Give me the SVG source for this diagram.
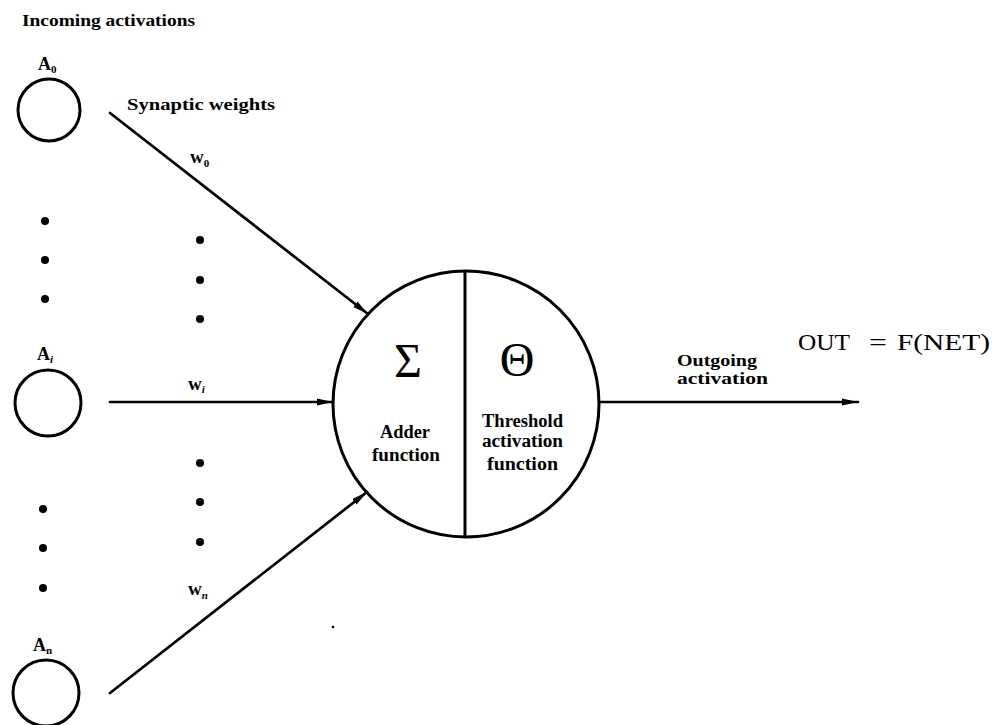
<svg xmlns="http://www.w3.org/2000/svg" width="1000" height="725" viewBox="0 0 1000 725">
<defs>
<style>
.c{fill:none;stroke:#000;stroke-width:3}
.l{fill:none;stroke:#000;stroke-width:2.7;stroke-linecap:round}
.t{font-family:"Liberation Serif",serif;font-weight:bold;fill:#000}
.s{font-size:17px}
.f{font-size:18px}
.d{fill:#000}
.m{font-family:"Liberation Serif",serif;fill:#000}
</style>
<marker id="ah" markerUnits="userSpaceOnUse" markerWidth="18" markerHeight="10" refX="16" refY="5" orient="auto">
<path d="M0,1.5 L16,5 L0,8.5 z" fill="#000"/>
</marker>
</defs>
<rect width="1000" height="725" fill="#fff"/>
<text class="t s" x="22" y="26" textLength="173" lengthAdjust="spacingAndGlyphs">Incoming activations</text>
<g id="A0">
<circle class="c" cx="49" cy="110" r="31"/>
<text class="t" x="38" y="70" font-size="18">A<tspan font-size="11" dy="3">0</tspan></text>
</g>
<g id="Ai">
<circle class="c" cx="48" cy="403" r="33"/>
<text class="t" x="37" y="360" font-size="18">A<tspan font-size="11" dy="3" font-style="italic">i</tspan></text>
</g>
<g id="An">
<circle class="c" cx="46" cy="693" r="33"/>
<text class="t" x="33" y="651" font-size="18">A<tspan font-size="11" dy="3">n</tspan></text>
</g>
<g id="dots">
<circle class="d" cx="45" cy="221" r="4"/>
<circle class="d" cx="45" cy="260" r="4"/>
<circle class="d" cx="45" cy="299" r="4"/>
<circle class="d" cx="200" cy="240" r="4"/>
<circle class="d" cx="200" cy="280" r="4"/>
<circle class="d" cx="200" cy="319" r="4"/>
<circle class="d" cx="200" cy="463" r="4"/>
<circle class="d" cx="200" cy="502" r="4"/>
<circle class="d" cx="200" cy="542" r="4"/>
<circle class="d" cx="43" cy="509" r="4"/>
<circle class="d" cx="43" cy="548" r="4"/>
<circle class="d" cx="43" cy="588" r="4"/>
<circle class="d" cx="333" cy="627" r="1.3"/>
</g>
<g id="neuron">
<circle class="c" cx="466" cy="404" r="133"/>
<line class="c" x1="465" y1="271" x2="465" y2="537"/>
<text class="m" x="408" y="377" font-size="48" text-anchor="middle">Σ</text>
<text class="m" x="517" y="376" font-size="48" text-anchor="middle">Θ</text>
<text class="t f" x="380" y="438" textLength="50" lengthAdjust="spacingAndGlyphs">Adder</text>
<text class="t f" x="372" y="461" textLength="68" lengthAdjust="spacingAndGlyphs">function</text>
<text class="t f" x="482" y="427" textLength="81" lengthAdjust="spacingAndGlyphs">Threshold</text>
<text class="t f" x="482" y="447" textLength="81" lengthAdjust="spacingAndGlyphs">activation</text>
<text class="t f" x="487" y="470" textLength="71" lengthAdjust="spacingAndGlyphs">function</text>
</g>
<g id="connectors">
<line class="l" x1="110" y1="113" x2="368" y2="314" marker-end="url(#ah)"/>
<line class="l" x1="110" y1="402" x2="333" y2="402" marker-end="url(#ah)"/>
<line class="l" x1="110" y1="693" x2="367" y2="492" marker-end="url(#ah)"/>
<line class="l" x1="599" y1="402" x2="858" y2="402" marker-end="url(#ah)"/>
</g>
<g id="labels">
<text class="t s" x="127" y="110" textLength="148" lengthAdjust="spacingAndGlyphs">Synaptic weights</text>
<text class="t" x="190" y="163" font-size="19">w<tspan font-size="11" dy="4">0</tspan></text>
<text class="t" x="188" y="390" font-size="19">w<tspan font-size="11" dy="3" font-style="italic">i</tspan></text>
<text class="t" x="188" y="595" font-size="19">w<tspan font-size="11" dy="4" font-style="italic">n</tspan></text>
<text class="t s" x="677" y="366" textLength="80" lengthAdjust="spacingAndGlyphs">Outgoing</text>
<text class="t s" x="677" y="384" textLength="91" lengthAdjust="spacingAndGlyphs">activation</text>
<text class="m" x="798" y="350" font-size="23" textLength="52" lengthAdjust="spacingAndGlyphs">OUT</text>
<text class="m" x="869" y="350" font-size="23" textLength="18" lengthAdjust="spacingAndGlyphs">=</text>
<text class="m" x="897" y="350" font-size="23" textLength="93" lengthAdjust="spacingAndGlyphs">F(NET)</text>
</g>
</svg>
